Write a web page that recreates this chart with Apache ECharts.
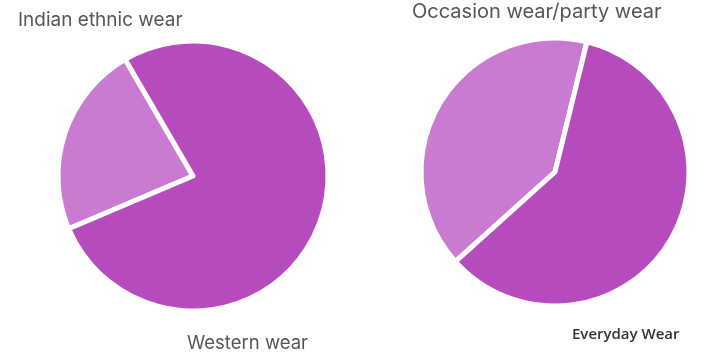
<!DOCTYPE html>
<html>
<head>
<meta charset="utf-8">
<script src="https://cdn.jsdelivr.net/npm/echarts@6/dist/echarts.min.js"></script>
<style>
  html, body { margin: 0; padding: 0; background: #fff; }
  #chart { width: 709px; height: 359px; }
</style>
</head>
<body>
<div id="chart"></div>
<script>
// left pie: wear style
const styleNames = ['Indian ethnic wear', 'Western wear']
const styleValues = [23, 77]
// right pie: wear occasion
const occasionNames = ['Occasion wear/party wear', 'Everyday Wear']
const occasionValues = [40.5, 59.5]

const light = '#c87bd0'
const dark = '#b54bbd'

const chart = echarts.init(document.getElementById('chart'))

function pieData(names, values) {
  return names.map((n, i) => ({
    name: n,
    value: values[i],
    itemStyle: { color: i === 0 ? light : dark }
  }))
}

const txt = { color: '#555', fontFamily: 'Inter', fontSize: 19, fontWeight: 'normal' }

chart.setOption({
  animation: false,
  title: [
    { text: styleNames[0], left: 13, top: 6, textStyle: txt },
    { text: styleNames[1], left: 182, top: 329, textStyle: Object.assign({}, txt, { fontSize: 18.5 }) },
    { text: occasionNames[0], left: 407, top: -3, textStyle: Object.assign({}, txt, { fontSize: 20 }) },
    { text: occasionNames[1], left: 567, top: 322,
      textStyle: { color: '#333', fontFamily: 'Open Sans', fontSize: 15, fontWeight: 600 } }
  ],
  series: [
    {
      type: 'pie',
      center: [193, 176],
      radius: 135,
      startAngle: 203,
      label: { show: false },
      labelLine: { show: false },
      itemStyle: { borderColor: '#fff', borderWidth: 5 },
      data: pieData(styleNames, styleValues)
    },
    {
      type: 'pie',
      center: [555, 172],
      radius: 134,
      startAngle: 222,
      label: { show: false },
      labelLine: { show: false },
      itemStyle: { borderColor: '#fff', borderWidth: 5 },
      data: pieData(occasionNames, occasionValues)
    }
  ]
})
</script>
</body>
</html>
